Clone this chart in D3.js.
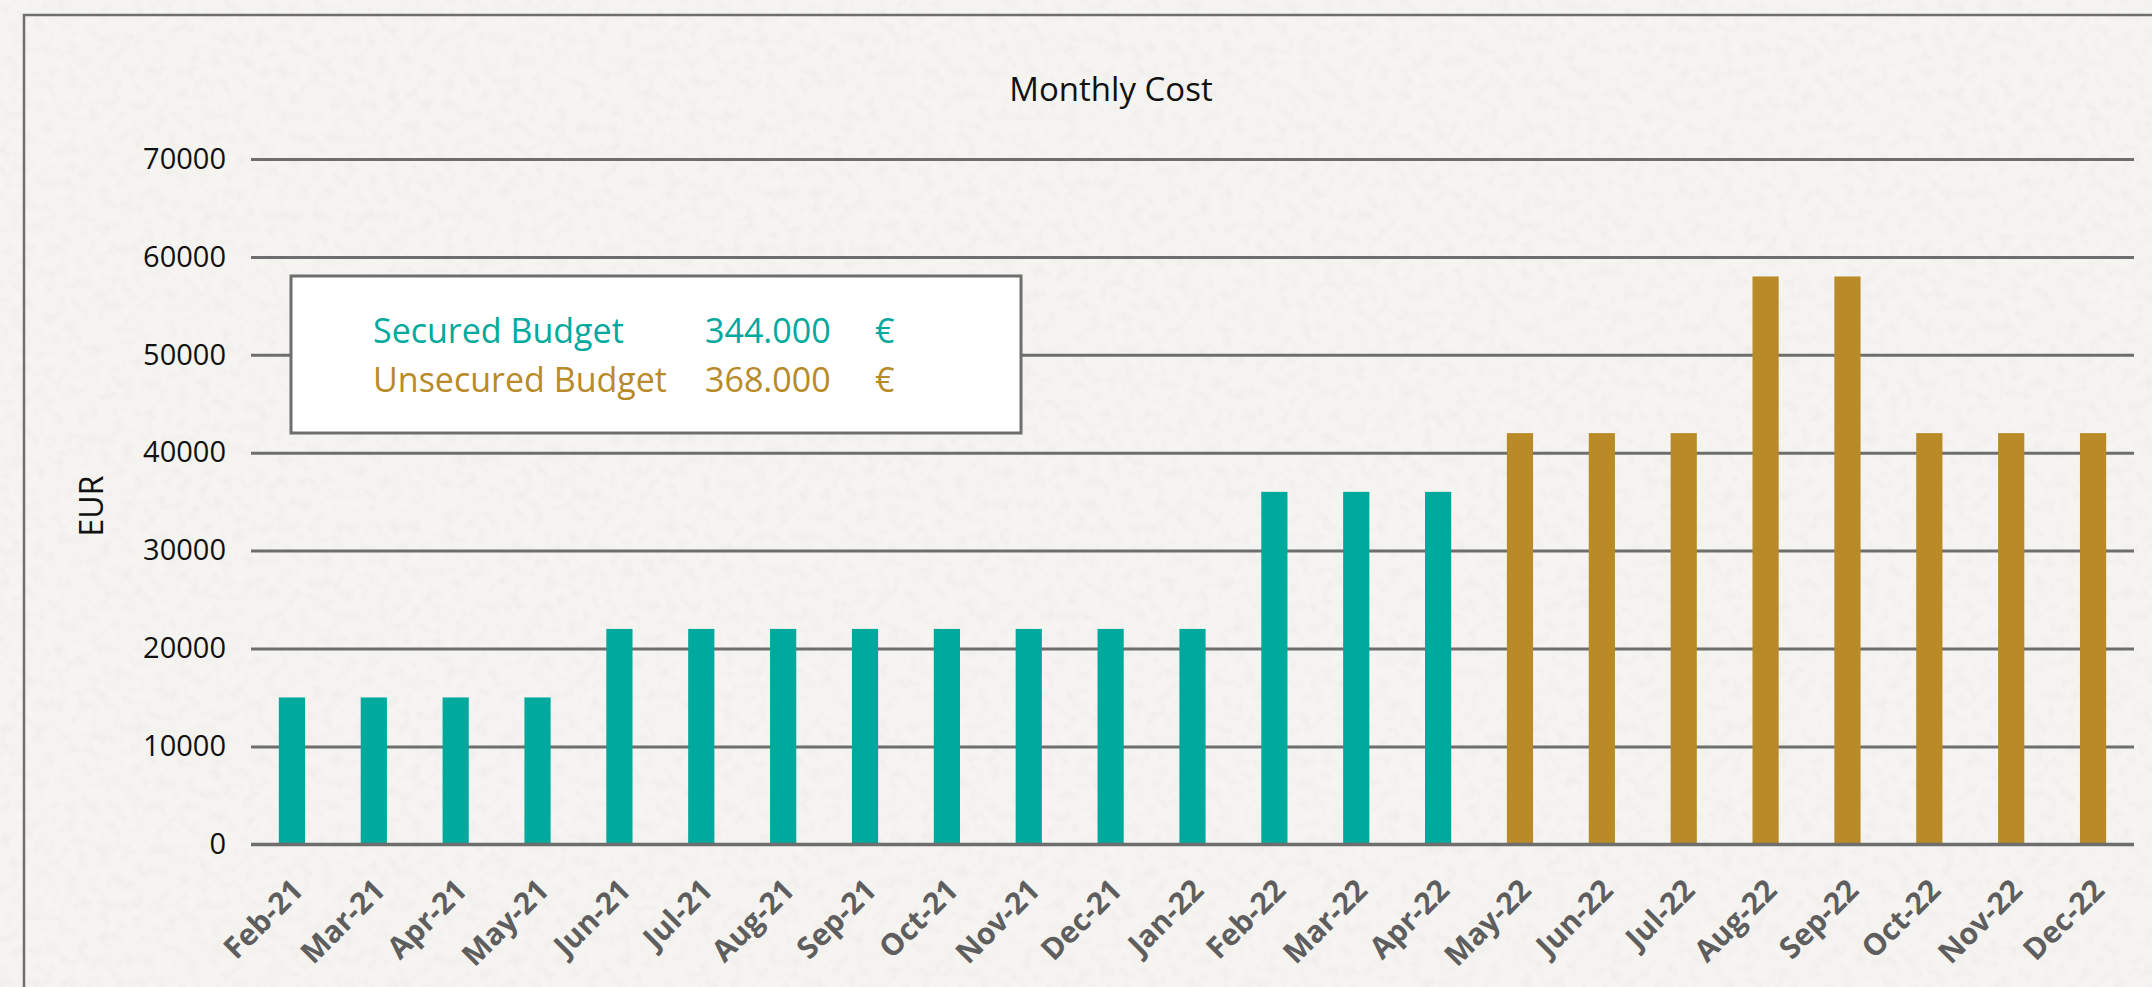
<!DOCTYPE html>
<html lang="en">

<head>
  <meta charset="UTF-8">
  <title>Monthly Cost</title>
  <style>
    html,
    body {
      margin: 0;
      padding: 0;
      background: #f2f1ed;
      overflow: hidden;
    }

    text {
      font-family: 'Open Sans', sans-serif;
    }
  </style>
  <script src="https://cdnjs.cloudflare.com/ajax/libs/d3/7.8.5/d3.min.js"></script>
</head>

<body>
  <svg id="chart"></svg>
  <script>
    //
    // Data
    //

    var months = ['Feb-21', 'Mar-21', 'Apr-21', 'May-21', 'Jun-21', 'Jul-21', 'Aug-21', 'Sep-21',
      'Oct-21', 'Nov-21', 'Dec-21', 'Jan-22', 'Feb-22', 'Mar-22', 'Apr-22', 'May-22', 'Jun-22',
      'Jul-22', 'Aug-22', 'Sep-22', 'Oct-22', 'Nov-22', 'Dec-22']
    // secured budget covers Feb-21 .. Apr-22
    var securedCost = [15000, 15000, 15000, 15000, 22000, 22000, 22000, 22000, 22000, 22000,
      22000, 22000, 36000, 36000, 36000]
    // unsecured budget covers May-22 .. Dec-22
    var unsecuredCost = [42000, 42000, 42000, 58000, 58000, 42000, 42000, 42000]
    var yTicks = [0, 10000, 20000, 30000, 40000, 50000, 60000, 70000]

    //
    // Configuration
    //

    var width = 2152
    var height = 987
    var colorSecured = '#00a99d'
    var colorUnsecured = '#b88a28'
    var colorGrid = '#6e6e6e'
    var plot = { left: 251, right: 2134, top: 159, bottom: 844.3 }

    //
    // Variables
    //

    var svg = d3.select('#chart').attr('width', width).attr('height', height)

    var x = d3.scaleBand()
      .domain(months)
      .range([plot.left, plot.right])
      .paddingInner(0.68)
      .paddingOuter(0.34)

    var y = d3.scaleLinear()
      .domain([0, 70000])
      .range([plot.bottom, plot.top])

    var bars = securedCost.map(function (v, i) {
      return { month: months[i], value: v, color: colorSecured }
    }).concat(unsecuredCost.map(function (v, i) {
      return { month: months[securedCost.length + i], value: v, color: colorUnsecured }
    }))

    // 344000 -> "344.000"
    var euro = d3.formatLocale({ decimal: ',', thousands: '.', grouping: [3], currency: ['', ''] })
      .format(',')

    //
    // Background (paper)
    //

    var defs = svg.append('defs')
    var paper = defs.append('filter').attr('id', 'paper')
      .attr('x', 0).attr('y', 0).attr('width', '100%').attr('height', '100%')
    paper.append('feTurbulence')
      .attr('type', 'fractalNoise')
      .attr('baseFrequency', 0.09)
      .attr('numOctaves', 4)
      .attr('seed', 7)
    paper.append('feColorMatrix')
      .attr('type', 'matrix')
      .attr('values', '0 0 0 0 0.6  0 0 0 0 0.59  0 0 0 0 0.55  -0.3 0 0 0 0.17')

    svg.append('rect').attr('width', width).attr('height', height).attr('fill', '#f5f4f1')
    svg.append('rect').attr('width', width).attr('height', height).attr('filter', 'url(#paper)')

    // outer chart frame, cut by the picture edges on the right and bottom
    svg.append('rect')
      .attr('x', 24).attr('y', 15)
      .attr('width', 2300).attr('height', 1100)
      .attr('fill', 'none')
      .attr('stroke', colorGrid)
      .attr('stroke-width', 2.5)

    //
    // Axes
    //

    var yAxis = svg.append('g')
      .attr('transform', 'translate(' + plot.left + ',0)')
      .call(d3.axisLeft(y)
        .tickValues(yTicks)
        .tickFormat(d3.format('d'))
        .tickSize(-(plot.right - plot.left))
        .tickPadding(25))
    yAxis.select('.domain').remove()
    yAxis.selectAll('.tick line').attr('stroke', colorGrid).attr('stroke-width', 3)
    yAxis.selectAll('.tick text')
      .attr('fill', '#111')
      .style('font-size', '29px')

    svg.append('text')
      .attr('transform', 'translate(91,506) rotate(-90)')
      .attr('text-anchor', 'middle')
      .attr('dy', '0.36em')
      .attr('fill', '#111')
      .style('font-size', '32px')
      .text('EUR')

    svg.append('g')
      .selectAll('text')
      .data(months)
      .join('text')
      .attr('transform', function (d) {
        return 'translate(' + (x(d) + x.bandwidth() / 2 + 13) + ',892) rotate(-45)'
      })
      .attr('text-anchor', 'end')
      .attr('fill', '#5e5e5e')
      .style('font-size', '30px')
      .style('font-weight', 700)
      .text(function (d) { return d })

    //
    // Bars
    //

    svg.append('g')
      .selectAll('rect')
      .data(bars)
      .join('rect')
      .attr('x', function (d) { return x(d.month) })
      .attr('y', function (d) { return y(d.value) })
      .attr('width', x.bandwidth())
      .attr('height', function (d) { return y(0) - y(d.value) })
      .attr('fill', function (d) { return d.color })

    // baseline drawn over the bar feet
    svg.append('line')
      .attr('x1', plot.left).attr('x2', plot.right)
      .attr('y1', y(0)).attr('y2', y(0))
      .attr('stroke', colorGrid)
      .attr('stroke-width', 3)

    //
    // Title
    //

    svg.append('text')
      .attr('x', 1111).attr('y', 101)
      .attr('text-anchor', 'middle')
      .attr('fill', '#111')
      .style('font-size', '33px')
      .text('Monthly Cost')

    //
    // Budget box
    //

    var box = svg.append('g')
    box.append('rect')
      .attr('x', 291).attr('y', 276)
      .attr('width', 730).attr('height', 157)
      .attr('fill', '#fff')
      .attr('stroke', colorGrid)
      .attr('stroke-width', 3)

    var budgets = [
      { label: 'Secured Budget', total: d3.sum(securedCost), color: colorSecured },
      { label: 'Unsecured Budget', total: d3.sum(unsecuredCost), color: colorUnsecured }
    ]

    var rows = box.selectAll('g.row')
      .data(budgets)
      .join('g')
      .attr('class', 'row')
      .attr('transform', function (d, i) { return 'translate(0,' + (343 + i * 49) + ')' })
      .attr('fill', function (d) { return d.color })
      .style('font-size', '34px')

    rows.append('text').attr('x', 373).text(function (d) { return d.label })
    rows.append('text').attr('x', 705).text(function (d) { return euro(d.total) })
    rows.append('text').attr('x', 875).text('€')
  </script>
</body>

</html>
